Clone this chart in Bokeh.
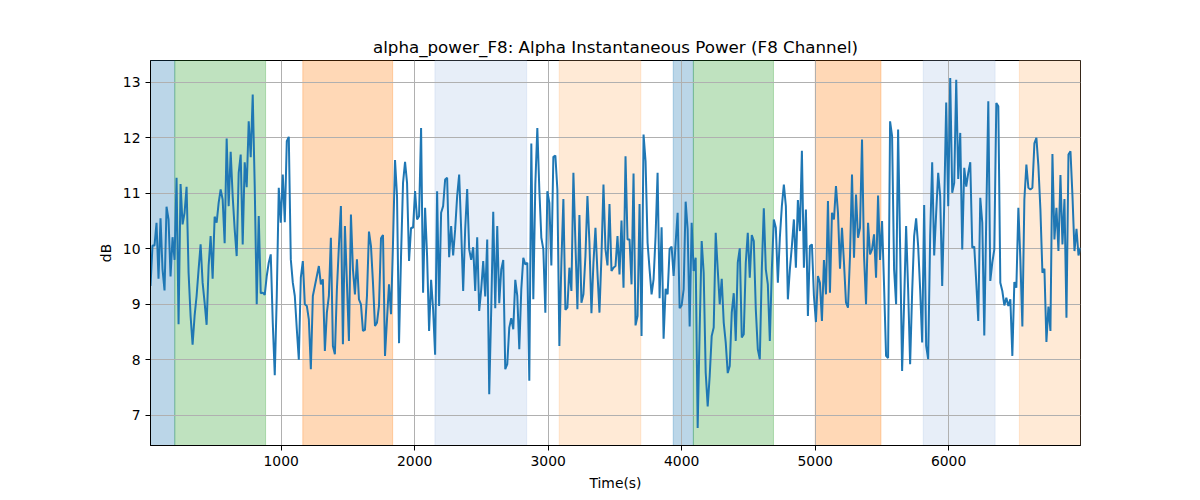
import numpy as np
from bokeh.plotting import figure
from bokeh.models import Range1d, SingleIntervalTicker, ColumnDataSource
from bokeh.embed import file_html
from bokeh.resources import INLINE

# ---- data ----
sample_start_s = 21.0
sample_step_s = 15.015

alpha_db = [
    9.33, 10.06, 10.06, 10.47, 9.46, 10.55, 9.63, 9.25, 10.76, 10.53,
    9.50, 10.21, 9.80, 11.28, 8.64, 11.17, 10.44, 10.65, 11.12, 9.57,
    8.79, 8.27, 8.79, 9.15, 9.63, 10.08, 9.39, 9.03, 8.63, 9.69,
    10.23, 9.46, 10.58, 10.47, 10.83, 11.07, 10.89, 10.10, 11.99, 10.77,
    11.75, 10.95, 10.35, 9.87, 11.37, 11.70, 10.08, 11.56, 11.11, 12.30,
    11.65, 12.78, 11.13, 9.00, 10.59, 9.20, 9.21, 9.17, 9.51, 9.75,
    9.90, 8.67, 7.72, 9.15, 11.10, 10.47, 11.34, 10.48, 11.94, 12.02,
    9.81, 9.39, 9.15, 8.55, 8.00, 9.48, 9.78,
    9.00, 8.97, 8.73, 7.83, 9.15, 9.33, 9.51, 9.69, 9.36, 9.45,
    8.16, 8.85, 9.15, 10.20, 8.25, 8.10, 9.27, 10.05, 10.77, 8.28,
    10.41, 9.39, 8.34, 10.62, 9.63, 9.18, 9.81, 9.09, 9.00, 8.52,
    8.54, 9.15, 10.31, 10.05, 9.39, 8.61, 8.67, 8.97, 10.19, 10.25,
    8.07, 8.73, 9.36, 8.82, 10.11, 11.60, 10.95, 8.30, 9.87, 11.19,
    11.57, 11.19, 9.78, 10.38, 10.38, 11.04, 10.53, 10.59, 12.18, 9.21,
    10.74, 9.87, 8.52, 9.44, 8.91, 8.09, 11.04, 8.97, 10.65, 10.77,
    11.25, 11.28, 9.85, 10.41, 9.88, 10.35, 10.95, 11.34,
    10.35, 9.24, 10.35, 11.08, 9.99, 9.80, 10.03, 9.24, 10.21, 8.88,
    9.27, 9.78, 9.14, 10.17, 7.38, 8.91, 10.67, 8.93, 10.41, 9.02,
    9.63, 9.80, 7.83, 7.92, 8.58, 8.75, 8.55, 9.44, 9.15, 8.19,
    9.27, 9.84, 9.72, 9.75, 7.62, 11.90, 9.09, 11.16, 12.18, 11.07,
    10.20, 9.99, 8.85, 11.04, 10.83, 9.70, 11.66, 11.68, 11.07, 8.25,
    9.75, 10.90, 8.90, 8.94, 9.66, 9.24, 11.37, 10.11, 8.91, 10.61,
    9.03, 9.18, 9.87, 10.95, 10.11, 8.84, 9.75, 10.38, 9.57, 8.85,
    9.87, 11.16, 9.99, 9.70, 10.81, 9.60, 9.66,
    9.69, 10.23, 9.54, 10.51, 9.30, 11.67, 10.17, 10.17, 9.36, 11.36,
    8.62, 8.79, 10.81, 8.43, 12.06, 11.58, 10.11, 9.63, 9.18, 9.45,
    10.23, 11.37, 9.11, 10.39, 8.38, 9.28, 9.18, 10.00, 10.04, 9.51,
    10.11, 10.65, 8.93, 8.98, 9.27, 10.85, 10.35, 8.60, 10.47, 9.60,
    9.84, 6.77, 8.55, 10.14, 9.57, 7.77, 7.16, 7.71, 8.43, 8.58,
    10.29, 9.63, 9.00, 9.46, 8.67, 8.31, 7.76, 7.89, 8.85, 9.20,
    8.34, 9.75, 10.01, 8.40, 8.46, 9.75, 10.29, 9.48, 10.25, 10.14,
    8.91, 8.19, 8.01, 9.63, 10.73, 9.63, 9.36, 8.34,
    9.63, 10.53, 10.38, 9.39, 10.20, 10.77, 11.16, 10.77, 9.09, 9.63,
    10.05, 10.53, 9.66, 10.88, 10.32, 11.77, 9.66, 10.71, 8.79, 10.05,
    10.08, 9.15, 8.68, 9.51, 9.39, 8.70, 9.80, 9.18, 10.86, 9.21,
    10.65, 10.53, 11.13, 10.65, 9.64, 10.38, 9.75, 9.03, 8.94, 9.87,
    11.34, 9.84, 10.98, 10.20, 10.38, 11.97, 9.87, 9.00, 10.47, 9.90,
    9.99, 10.26, 9.48, 10.96, 9.80, 10.50, 9.33, 8.07, 8.03, 12.30,
    12.03, 9.63, 9.00, 12.15, 10.05, 7.80, 9.03, 10.41, 9.27, 7.92,
    9.21, 10.23, 10.55, 10.05, 9.27, 8.31, 10.79,
    8.25, 8.01, 10.23, 11.56, 9.88, 10.65, 11.37, 10.95, 9.33, 10.77,
    12.64, 10.77, 13.08, 11.01, 11.19, 13.05, 11.26, 12.09, 9.99, 11.46,
    11.12, 11.37, 11.56, 10.02, 10.04, 9.39, 8.70, 10.92, 10.47, 8.44,
    10.59, 12.66, 9.42, 9.75, 9.99, 12.63, 12.57, 9.39, 9.24, 8.98,
    9.12, 8.97, 9.09, 8.07, 9.40, 9.30, 10.74, 9.81, 8.60, 10.89,
    11.52, 11.10, 11.07, 11.10, 11.90, 12.00, 11.49, 10.71, 9.57, 9.64,
    8.32, 8.96, 8.52, 11.71, 10.17, 10.74, 9.96, 11.33, 10.08, 10.90,
    8.76, 11.70, 11.76, 10.95, 9.96, 10.36, 9.88, 10.02,
]

span_start = [21, 203, 1162, 2152, 3083, 3937, 4088, 5001, 5810, 6530]
span_end = [203, 883, 1835, 2839, 3694, 4088, 4688, 5493, 6348, 6988]
span_color = ["#1f77b4", "#2ca02c", "#ff7f0e", "#aec7e8", "#ffbb78",
              "#1f77b4", "#2ca02c", "#ff7f0e", "#aec7e8", "#ffbb78"]

x_ticks_step = 1000
y_ticks_step = 1

title_text = "alpha_power_F8: Alpha Instantaneous Power (F8 Channel)"
x_label = "Time(s)"
y_label = "dB"

# ---- build ----
vals = np.array(alpha_db)
time_s = sample_start_s + sample_step_s * np.arange(len(vals))

x_lo, x_hi = float(time_s.min()), float(max(time_s.max(), max(span_end)))
rng = vals.max() - vals.min()
y_lo, y_hi = float(vals.min() - 0.05 * rng), float(vals.max() + 0.05 * rng)

FONT = "DejaVu Sans"

p = figure(
    width=1200, height=500,
    output_backend="svg", toolbar_location=None,
    x_range=Range1d(x_lo, x_hi), y_range=Range1d(y_lo, y_hi),
    min_border_left=150, min_border_right=120,
    min_border_top=60, min_border_bottom=55,
    title=title_text,
)
p.background_fill_color = "white"
p.border_fill_color = "white"
p.outline_line_color = "black"
p.outline_line_width = 1

p.title.align = "center"
p.title.text_font = FONT
p.title.text_font_size = "16.7px"
p.title.text_font_style = "normal"
p.title.text_color = "black"
p.title.standoff = 7

span_src = ColumnDataSource(dict(left=span_start, right=span_end, color=span_color))
p.quad(left="left", right="right", top=y_hi, bottom=y_lo, source=span_src,
       fill_color="color", fill_alpha=0.3, line_color="color", line_alpha=0.3,
       line_width=1, level="image")

p.line(time_s, vals, line_color="#1f77b4", line_width=2)

xt = SingleIntervalTicker(interval=x_ticks_step, num_minor_ticks=0)
yt = SingleIntervalTicker(interval=y_ticks_step, num_minor_ticks=0)
p.xaxis.ticker = xt
p.yaxis.ticker = yt
p.xgrid.ticker = xt
p.ygrid.ticker = yt

for g in (p.xgrid, p.ygrid):
    g.grid_line_color = "#b0b0b0"
    g.grid_line_width = 1

p.xaxis.axis_label = x_label
p.yaxis.axis_label = y_label
for ax in (p.xaxis, p.yaxis):
    ax.axis_label_text_font = FONT
    ax.axis_label_text_font_size = "13.9px"
    ax.axis_label_text_font_style = "normal"
    ax.axis_label_text_color = "black"
    ax.major_label_text_font = FONT
    ax.major_label_text_font_size = "13.9px"
    ax.major_label_text_color = "black"
    ax.axis_line_color = "black"
    ax.major_tick_line_color = "black"
    ax.major_tick_out = 5
    ax.major_tick_in = 0
    ax.minor_tick_line_color = None
    ax.major_label_standoff = 5
    ax.axis_label_standoff = 6

open("out.html", "w").write(file_html(p, INLINE))
